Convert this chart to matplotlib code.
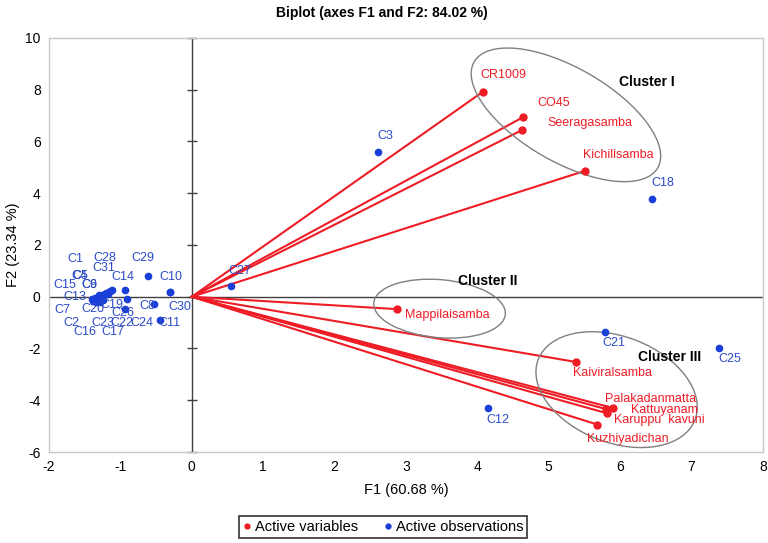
import matplotlib.pyplot as plt
from matplotlib.patches import Ellipse
from matplotlib.transforms import ScaledTranslation
from matplotlib.lines import Line2D

plt.rcParams['font.family'] = ['Liberation Sans', 'DejaVu Sans']
plt.rcParams['axes.unicode_minus'] = False

# active variables (red vectors)
var_names = ["CR1009", "CO45", "Seeragasamba", "Kichilisamba", "Mappilaisamba",
             "Kaiviralsamba", "Palakadanmatta", "Kattuyanam", "Karuppu  kavuni",
             "Kuzhiyadichan"]
var_x = [4.08, 4.64, 4.63, 5.50, 2.88, 5.38, 5.90, 5.80, 5.81, 5.68]
var_y = [7.93, 6.94, 6.45, 4.86, -0.48, -2.52, -4.30, -4.34, -4.50, -4.94]

# active observations (blue points)
obs_names = ["C1", "C2", "C3", "C4", "C5", "C6", "C7", "C8", "C9", "C10",
             "C11", "C12", "C13", "C14", "C15", "C16", "C17", "C18", "C19", "C20",
             "C21", "C22", "C23", "C24", "C25", "C26", "C27", "C28", "C29", "C30",
             "C31"]
obs_x = [-1.30, -1.38, 2.61, -1.22, -1.20, -1.25, -1.40, -0.53, -1.26, -0.30,
         -0.45, 4.15, -1.36, -0.94, -1.32, -1.34, -1.28, 6.45, -0.91, -1.30,
         5.79, -1.18, -1.24, -1.15, 7.39, -0.93, 0.55, -1.12, -0.62, -0.31,
         -1.16]
obs_y = [0.05, -0.15, 5.59, 0.12, 0.15, 0.08, -0.10, -0.28, 0.06, 0.20,
         -0.89, -4.30, -0.05, 0.27, 0.00, -0.20, -0.22, 3.77, -0.09, -0.18,
         -1.38, 0.10, -0.12, 0.22, -1.97, -0.48, 0.42, 0.25, 0.81, 0.19,
         0.18]

clusters = ["Cluster I", "Cluster II", "Cluster III"]
cluster_x = [6.37, 4.15, 6.69]
cluster_y = [8.30, 0.62, -2.32]

xticks = list(range(-2, 9))
yticks = list(range(-6, 11, 2))

# label offsets in pixels (layout only)
var_off = {"CR1009": (20, 17), "CO45": (31, 14), "Seeragasamba": (68, 7),
           "Kichilisamba": (34, 16), "Mappilaisamba": (50, -6),
           "Kaiviralsamba": (37, -11), "Palakadanmatta": (38, 9),
           "Kattuyanam": (59, -1), "Karuppu  kavuni": (53, -7),
           "Kuzhiyadichan": (30, -14)}
obs_off = {"C1": (-24, 36), "C2": (-22, -22), "C3": (7, 16), "C4": (-25, 18),
           "C5": (-26, 17), "C6": (-13, 10), "C7": (-29, -11), "C8": (-7, -2),
           "C9": (-12, 10), "C10": (0, 15), "C11": (10, -3), "C12": (10, -12),
           "C13": (-20, 1), "C14": (-2, 13), "C15": (-33, 12), "C16": (-11, -30),
           "C17": (12, -30), "C18": (10, 16), "C19": (-15, -6), "C20": (-6, -8),
           "C21": (9, -11), "C22": (14, -29), "C23": (0, -23), "C24": (32, -32),
           "C25": (10, -11), "C26": (-3, -4), "C27": (9, 15), "C28": (-7, 32),
           "C29": (-5, 18), "C30": (10, -15), "C31": (-5, 24)}

RED = "#ee1c25"
BLUE = "#1a3fd8"
BLUE_TXT = "#2c4bc8"

fig = plt.figure(figsize=(7.68, 5.43), dpi=100)
ax = fig.add_axes([49 / 768, 1 - 452 / 543, 714 / 768, 414 / 543])
ax.set_xlim(-2, 8)
ax.set_ylim(-6, 10)

for s in ax.spines.values():
    s.set_color("#c8c8c8")
    s.set_linewidth(1)
ax.set_xticks(xticks)
ax.set_yticks(yticks)
ax.tick_params(length=0, labelsize=10, pad=6)

ax.axhline(0, color="#404040", lw=1, zorder=1)
ax.axvline(0, color="#404040", lw=1, zorder=1)
ax.plot([0] * len(yticks), yticks, ls="none", marker="_", ms=7, mew=1,
        color="#404040", zorder=1, clip_on=False)

for name, x, y in zip(var_names, var_x, var_y):
    ax.plot([0, x], [0, y], color=RED, lw=1.5, zorder=2)
    ax.plot(x, y, "o", color=RED, ms=5, zorder=3)
    ax.annotate(name, (x, y), xytext=var_off[name], textcoords="offset pixels",
                ha="center", va="center", color=RED, fontsize=9)

ax.plot(obs_x, obs_y, "o", ls="none", color=BLUE, ms=4.5, zorder=3)
for name, x, y in zip(obs_names, obs_x, obs_y):
    ax.annotate(name, (x, y), xytext=obs_off[name], textcoords="offset pixels",
                ha="center", va="center", color=BLUE_TXT, fontsize=9)

# cluster ellipses: center in data, size in pixels
ellipses = [((5.24, 7.03), 212, 94, -30), ((3.47, -0.46), 132, 58, -5),
            ((5.95, -3.59), 168, 106, -21)]
for (cx, cy), w, h, ang in ellipses:
    tr = fig.dpi_scale_trans + ScaledTranslation(cx, cy, ax.transData)
    ax.add_patch(Ellipse((0, 0), w / 100, h / 100, angle=ang, transform=tr,
                         fill=False, ec="#808080", lw=1, zorder=2))

for name, x, y in zip(clusters, cluster_x, cluster_y):
    ax.text(x, y, name, ha="center", va="center", fontsize=10,
            fontweight="bold", color="black")

ax.set_xlabel("F1 (60.68 %)", fontsize=10.5, labelpad=6)
ax.set_ylabel("F2 (23.34 %)", fontsize=10.5, labelpad=4)
fig.text(0.497, 1 - 13 / 543, "Biplot (axes F1 and F2: 84.02 %)", ha="center",
         va="center", fontsize=10, fontweight="bold")

handles = [Line2D([], [], ls="none", marker="o", ms=3.5, color=RED),
           Line2D([], [], ls="none", marker="o", ms=3.5, color=BLUE)]
leg = fig.legend(handles, ["Active variables", "Active observations"],
                 loc="center", bbox_to_anchor=(383 / 768, 1 - 527 / 543), ncol=2,
                 fontsize=10.5, frameon=True, fancybox=False, handlelength=0.6,
                 handletextpad=0.2, columnspacing=1.8, borderpad=0.3,
                 borderaxespad=0)
leg.get_frame().set_edgecolor("black")
leg.get_frame().set_linewidth(1.2)

fig.savefig("out.png", dpi=100)
